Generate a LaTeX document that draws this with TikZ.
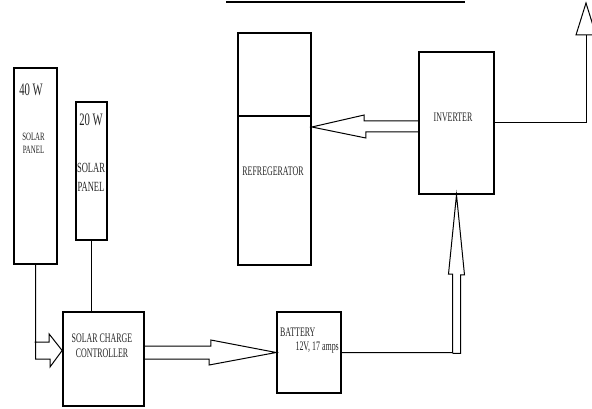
\documentclass[tikz,border=0pt]{standalone}
\usepackage{fontspec}
\setmainfont[FakeStretch=0.61]{Liberation Serif}
\usetikzlibrary{calc}

\begin{document}
\begin{tikzpicture}[x=1pt, y=-1pt]
  \tikzset{
    blk/.style 2 args={draw, line width=1.7pt, inner sep=0pt,
                       minimum width=#1pt, minimum height=#2pt},
    wire/.style={draw, line width=1pt, line join=miter},
    txt/.style={inner sep=0pt, align=center, text=black!85,
                font=\fontsize{13}{15}\selectfont},
    big/.style={txt, font=\fontsize{17.5}{18}\selectfont}}
  \useasboundingbox (0,0) rectangle (592,409);
  % blocks
  \node[blk={43}{196}] (p40) at (35.5,166) {};
  \node[blk={31}{138}] (p20) at (91.5,171) {};
  \node[blk={81}{94}] (ctrl) at (103.5,359) {};
  \node[blk={64}{81}] (bat) at (309,352.5) {};
  \node[blk={73}{232}] (fr) at (274.5,149) {};
  \node[blk={75}{142}] (inv) at (456.5,123) {};
  \coordinate (frd) at (238,116);
  \draw[line width=1.7pt] (frd) -- (frd -| fr.east);
  % texts
  \node[big] (t40) at (31,90) {40 W};
  \node[txt, font=\fontsize{11.2}{13}\selectfont] (t40sp) at (33.5,143.5) {SOLAR\\PANEL};
  \node[big] (t20) at (91,120) {20 W};
  \node[txt, font=\fontsize{14}{19}\selectfont] (t20sp) at (91,177.5) {SOLAR\\PANEL};
  \node[txt] (tctrl) at (102,345.5) {SOLAR CHARGE\\CONTROLLER};
  \node[txt, anchor=west] (tbat1) at (280,332) {BATTERY};
  \node[txt, anchor=east] (tbat2) at (339,348) {12V, 17 amps};
  \node[txt] (tfr) at (273,171) {REFREGERATOR};
  \node[txt] (tinv) at (453,117) {INVERTER};
  % top rule
  \coordinate (l1) at (226,2);
  \coordinate (l2) at (465,2);
  \draw[line width=1.2pt] (l1) -- (l2);
  % wires and block arrows
  \draw[wire] (p40.south) -- (p40.south |- ctrl.west) -- ++(14.5,0) -- ++(0,8)
    -- ($(ctrl.west)+(0,-8.5)$) -- ++(-13,-16.5) -- ++(0,8) -- ++(-14.5,0);
  \draw[wire] (p20.south) -- (p20.south |- ctrl.north);
  \draw[wire] ($(ctrl.east |- bat.west)+(0,-6.5)$) -- ++(66,0) -- ++(0,-6)
    -- (bat.west) -- ++(-67,12.5) -- ++(0,-6) -- ++(-66,0);
  \draw[wire] (bat.east) -- ($(inv.south |- bat.east)+(-4,0)$) -- ++(0,-78.5)
    -- ++(-4,0) -- (inv.south) -- ++(8,80) -- ++(-4,0) -- ++(0,78.5) -- ++(-8,0);
  \coordinate (tip) at ($(fr.east |- inv.west)+(0,4)$);
  \draw[wire] ($(inv.west)+(0,-2)$) -- ++(-54,0) -- ++(0,-6) -- (tip)
    -- ++(54,11) -- ++(0,-6) -- ++(54,0);
  % antenna
  \coordinate (ant) at (586,35);
  \draw[wire] (inv.east) -| (ant);
  \draw[wire] ($(ant)+(-10,0)$) -- ($(ant)+(0,-32)$) -- ($(ant)+(10,0)$) -- cycle;
\end{tikzpicture}
\end{document}
